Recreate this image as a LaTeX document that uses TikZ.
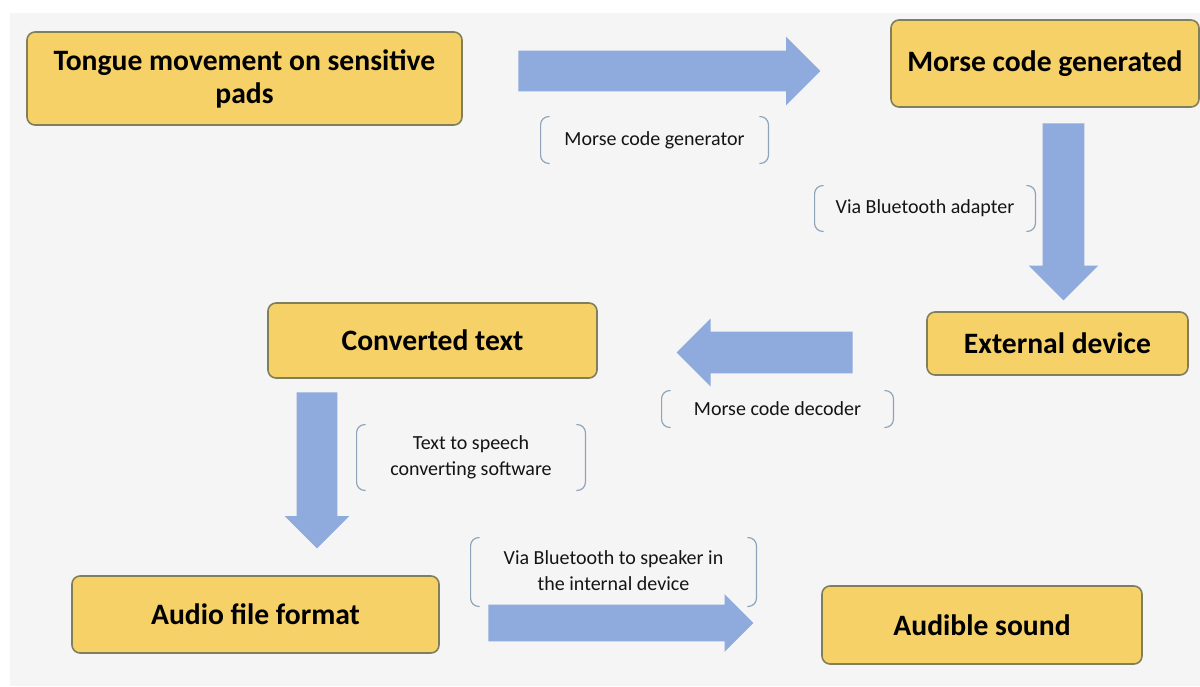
\documentclass[tikz,border=0pt]{standalone}
\usepackage{fontspec}
\setmainfont{Carlito}
\usetikzlibrary{shapes.arrows,calc}
\definecolor{bgc}{HTML}{F5F5F5}
\definecolor{boxfill}{HTML}{F6D168}
\definecolor{boxline}{HTML}{7F7F5C}
\definecolor{arrowc}{HTML}{8FAADC}
\definecolor{brkc}{HTML}{8FA3B8}
\definecolor{txt}{HTML}{141414}
\newcommand{\lowered}[2]{\raisebox{#1}{\begin{tabular}{@{}c@{}}#2\end{tabular}}}
\begin{document}
\begin{tikzpicture}[x=0.5pt,y=-0.5pt,
  box/.style={draw=boxline, fill=boxfill, rounded corners=4pt, line width=0.8pt,
    align=center, inner sep=0pt, text=black, font=\fontsize{14.8}{16.5}\selectfont\bfseries},
  lbl/.style={align=center, inner sep=0pt, text=txt, font=\fontsize{10}{13}\selectfont},
  blockarrow/.style={shape=single arrow, fill=arrowc, draw=none, inner xsep=0pt,
    single arrow tip angle=90, anchor=tail},
  brk/.style={draw=brkc, line width=0.6pt, rounded corners=4pt}
]
\useasboundingbox (0,0) rectangle (1200,686);
\fill[white] (0,0) rectangle (1200,686);
\fill[bgc] (10,13) rectangle (1200,686);

% boxes
\node[box, minimum width=217.5pt, minimum height=46.5pt] (tongue) at (244.5,78.5)
  {Tongue movement on sensitive\\pads};
\node[box, minimum width=154pt, minimum height=43.5pt] (gen) at (1045,63.5)
  {Morse code generated};
\node[box, minimum width=130.5pt, minimum height=31.5pt] (ext) at (1057.5,343.5)
  {External device};
\node[box, minimum width=164.5pt, minimum height=37.5pt] (conv) at (432.5,340.5)
  {Converted text};
\node[box, minimum width=183.5pt, minimum height=38.5pt] (audio) at (255.5,614.5)
  {Audio file format};
\node[box, minimum width=160pt, minimum height=39pt] (sound) at (982,625)
  {Audible sound};

% block arrows (placed by their tails)
\node[blockarrow, minimum height=151pt, inner ysep=10pt, single arrow head extend=7pt]
  (a1) at (518,71) {};
\node[blockarrow, minimum height=88.5pt, inner ysep=10.25pt, single arrow head extend=7pt, rotate=-90]
  (a2) at (1063.5,123) {};
\node[blockarrow, minimum height=88pt, inner ysep=10.25pt, single arrow head extend=6.5pt, rotate=180]
  (a3) at (853,352.5) {};
\node[blockarrow, minimum height=78pt, inner ysep=10pt, single arrow head extend=6pt, rotate=-90]
  (a4) at (317,392) {};
\node[blockarrow, minimum height=132.5pt, inner ysep=9pt, single arrow head extend=5.25pt]
  (a5) at (488,623) {};

% bracketed labels
\node[lbl, minimum width=113.5pt, minimum height=23pt] (b1) at (654.5,140)
  {\raisebox{-1pt}{Morse code generator}};
\node[lbl, minimum width=110pt, minimum height=22.5pt] (b2) at (925,208.5)
  {\raisebox{-1pt}{Via Bluetooth adapter}};
\node[lbl, minimum width=115.5pt, minimum height=18pt] (b3) at (777.5,409)
  {\raisebox{-2pt}{Morse code decoder}};
\node[lbl, minimum width=114pt, minimum height=32.5pt] (b4) at (471,457.5)
  {\lowered{-2pt}{Text to speech\\converting software}};
\node[lbl, minimum width=142.5pt, minimum height=34pt] (b5) at (613.5,572)
  {\lowered{-0.5pt}{Via Bluetooth to speaker in\\the internal device}};

\foreach \b in {b1,b2,b3,b4,b5}{
  \draw[brk] ($(\b.north west)+(9,0)$) -- (\b.north west) -- (\b.south west) -- ($(\b.south west)+(9,0)$);
  \draw[brk] ($(\b.north east)+(-9,0)$) -- (\b.north east) -- (\b.south east) -- ($(\b.south east)+(-9,0)$);
}
\end{tikzpicture}
\end{document}
